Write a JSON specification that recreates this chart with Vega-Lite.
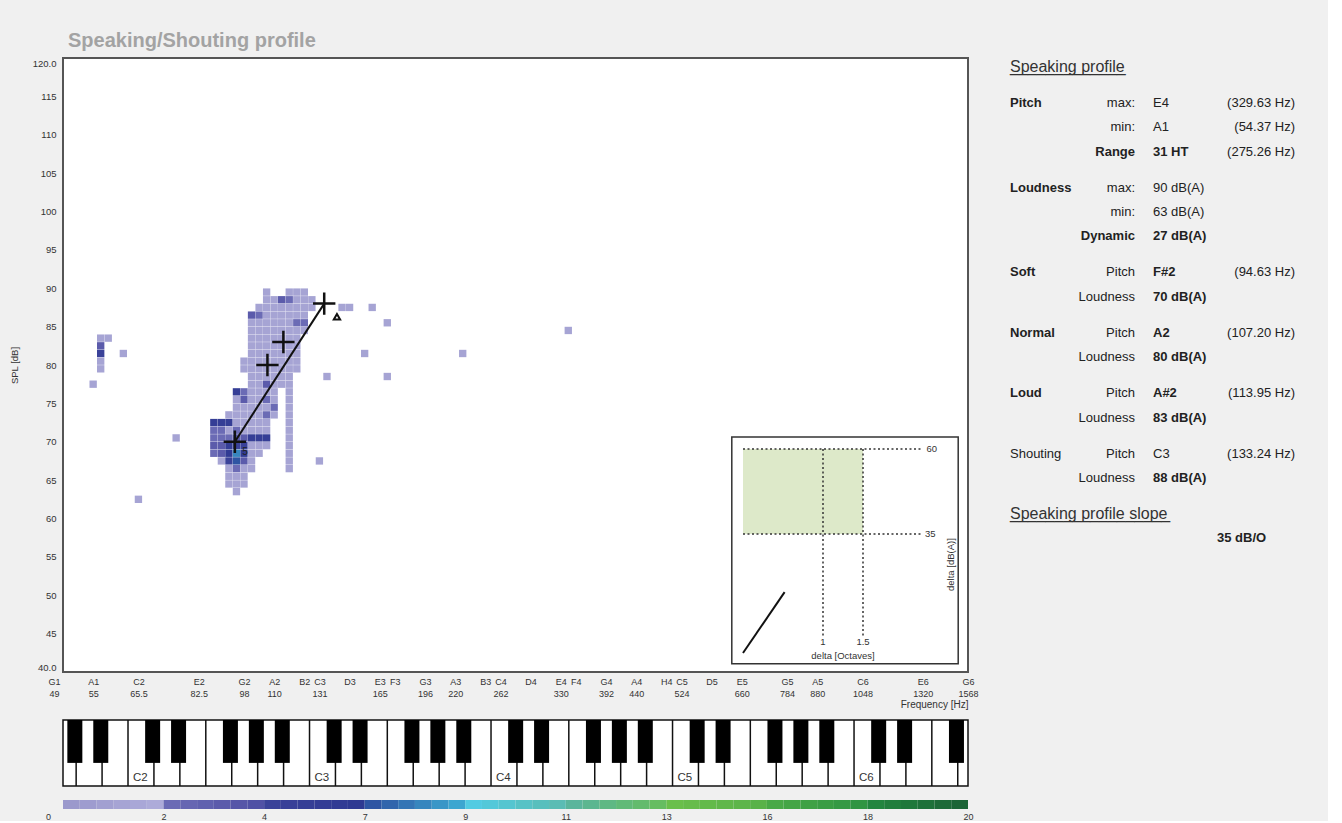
{
"$schema":"https://vega.github.io/schema/vega-lite/v6.json",
"background":"#f0f0f0",
"padding":{"left":8,"top":30,"right":0,"bottom":0},
"config":{"font":"Liberation Sans","view":{"stroke":null},"axis":{"grid":false,"domain":false,"ticks":false,"labelColor":"#333","titleColor":"#333"}},
"spacing":18,
"hconcat":[
{"spacing":1,"vconcat":[
{
"width":905,"height":614,
"title":{"text":"Speaking/Shouting profile","anchor":"start","frame":"group","fontSize":20,"fontWeight":"bold","color":"#a3a3a3","dx":5,"offset":7},
"view":{"fill":"white","stroke":"#555","strokeWidth":2},
"resolve":{"scale":{"x":"independent","y":"independent"}},
"layer":[
{
"encoding":{
"x":{"field":"f","type":"quantitative","scale":{"type":"log","base":2,"domain":[49,1568],"nice":false},
 "axis":{"title":"Frequency [Hz]","titleAnchor":"end","titleFontSize":10,"titleFontWeight":"normal","titlePadding":1,
 "values":[49,55,65.41,82.41,98,110,123.47,130.81,146.83,164.81,174.61,196,220,246.94,261.63,293.66,329.63,349.23,392,440,493.88,523.25,587.33,659.26,784,880,1046.5,1318.5,1568],
 "labelExpr":"({'49':['G1','49'],'55':['A1','55'],'65.41':['C2','65.5'],'82.41':['E2','82.5'],'98':['G2','98'],'110':['A2','110'],'123.47':['B2',''],'130.81':['C3','131'],'146.83':['D3',''],'164.81':['E3','165'],'174.61':['F3',''],'196':['G3','196'],'220':['A3','220'],'246.94':['B3',''],'261.63':['C4','262'],'293.66':['D4',''],'329.63':['E4','330'],'349.23':['F4',''],'392':['G4','392'],'440':['A4','440'],'493.88':['H4',''],'523.25':['C5','524'],'587.33':['D5',''],'659.26':['E5','660'],'784':['G5','784'],'880':['A5','880'],'1046.5':['C6','1048'],'1318.5':['E6','1320'],'1568':['G6','1568']})[''+datum.value]",
 "labelFontSize":9,"labelLineHeight":12,"labelPadding":5,"labelOverlap":false,"labelBound":false,"labelFlush":false,"labelBaseline":"top",
 "labelOffset":{"condition":{"test":"datum.value==49","value":-9},"value":0}}},
"y":{"field":"d","type":"quantitative","scale":{"domain":[40,120],"nice":false,"zero":false},
 "axis":{"title":"SPL [dB]","titleFontSize":9.5,"titleFontWeight":"normal","titlePadding":13,"values":[40,45,50,55,60,65,70,75,80,85,90,95,100,105,110,115,120],
 "labelExpr":"datum.value==40||datum.value==120?format(datum.value,'.1f'):datum.label","labelFontSize":9.5,"labelPadding":7,"labelFlush":true,"labelOverlap":false}}
},
"layer":[
{"data":{"values":[
{"f":55.0,"d":77.5,"n":1},
{"f":56.61,"d":83.5,"n":1},{"f":56.61,"d":82.5,"n":3},{"f":56.61,"d":81.5,"n":4},{"f":56.61,"d":80.5,"n":1},{"f":56.61,"d":79.5,"n":1},
{"f":58.27,"d":83.5,"n":1},{"f":61.74,"d":81.5,"n":1},{"f":65.41,"d":62.5,"n":1},{"f":75.57,"d":70.5,"n":1},
{"f":87.31,"d":72.5,"n":5},{"f":87.31,"d":71.5,"n":2},{"f":87.31,"d":70.5,"n":2},{"f":87.31,"d":69.5,"n":3},{"f":87.31,"d":68.5,"n":2},
{"f":89.87,"d":72.5,"n":5},{"f":89.87,"d":71.5,"n":2},{"f":89.87,"d":70.5,"n":2},{"f":89.87,"d":69.5,"n":3},{"f":89.87,"d":68.5,"n":3},{"f":89.87,"d":67.5,"n":1},
{"f":92.5,"d":73.5,"n":1},{"f":92.5,"d":72.5,"n":5},{"f":92.5,"d":71.5,"n":1},{"f":92.5,"d":70.5,"n":2},{"f":92.5,"d":69.5,"n":5},{"f":92.5,"d":68.5,"n":6},{"f":92.5,"d":67.5,"n":4},{"f":92.5,"d":66.5,"n":1},{"f":92.5,"d":65.5,"n":1},{"f":92.5,"d":64.5,"n":1},
{"f":95.21,"d":76.5,"n":5},{"f":95.21,"d":75.5,"n":1},{"f":95.21,"d":74.5,"n":1},{"f":95.21,"d":73.5,"n":1},{"f":95.21,"d":72.5,"n":1},{"f":95.21,"d":71.5,"n":2},{"f":95.21,"d":70.5,"n":3},{"f":95.21,"d":69.5,"n":4},{"f":95.21,"d":68.5,"n":8},{"f":95.21,"d":67.5,"n":7},{"f":95.21,"d":66.5,"n":2},{"f":95.21,"d":65.5,"n":1},{"f":95.21,"d":64.5,"n":1},{"f":95.21,"d":63.5,"n":1},
{"f":98.0,"d":80.5,"n":1},{"f":98.0,"d":79.5,"n":1},{"f":98.0,"d":76.5,"n":2},{"f":98.0,"d":75.5,"n":3},{"f":98.0,"d":74.5,"n":1},{"f":98.0,"d":73.5,"n":1},{"f":98.0,"d":72.5,"n":1},{"f":98.0,"d":71.5,"n":1},{"f":98.0,"d":70.5,"n":3},{"f":98.0,"d":69.5,"n":4},{"f":98.0,"d":68.5,"n":6},{"f":98.0,"d":67.5,"n":3},{"f":98.0,"d":66.5,"n":1},{"f":98.0,"d":65.5,"n":1},{"f":98.0,"d":64.5,"n":1},
{"f":100.87,"d":86.5,"n":3},{"f":100.87,"d":85.5,"n":1},{"f":100.87,"d":84.5,"n":1},{"f":100.87,"d":83.5,"n":1},{"f":100.87,"d":82.5,"n":1},{"f":100.87,"d":81.5,"n":1},{"f":100.87,"d":80.5,"n":1},{"f":100.87,"d":79.5,"n":1},{"f":100.87,"d":78.5,"n":1},{"f":100.87,"d":77.5,"n":1},{"f":100.87,"d":76.5,"n":1},{"f":100.87,"d":75.5,"n":1},{"f":100.87,"d":74.5,"n":1},{"f":100.87,"d":73.5,"n":1},{"f":100.87,"d":72.5,"n":1},{"f":100.87,"d":71.5,"n":1},{"f":100.87,"d":70.5,"n":5},{"f":100.87,"d":69.5,"n":1},{"f":100.87,"d":68.5,"n":1},{"f":100.87,"d":67.5,"n":1},{"f":100.87,"d":66.5,"n":1},
{"f":103.83,"d":87.5,"n":1},{"f":103.83,"d":86.5,"n":2},{"f":103.83,"d":85.5,"n":1},{"f":103.83,"d":84.5,"n":1},{"f":103.83,"d":83.5,"n":1},{"f":103.83,"d":82.5,"n":1},{"f":103.83,"d":81.5,"n":1},{"f":103.83,"d":80.5,"n":1},{"f":103.83,"d":79.5,"n":1},{"f":103.83,"d":78.5,"n":1},{"f":103.83,"d":77.5,"n":1},{"f":103.83,"d":76.5,"n":1},{"f":103.83,"d":75.5,"n":1},{"f":103.83,"d":74.5,"n":1},{"f":103.83,"d":73.5,"n":1},{"f":103.83,"d":72.5,"n":1},{"f":103.83,"d":71.5,"n":1},{"f":103.83,"d":70.5,"n":5},{"f":103.83,"d":69.5,"n":1},{"f":103.83,"d":68.5,"n":1},
{"f":106.87,"d":89.5,"n":1},{"f":106.87,"d":88.5,"n":1},{"f":106.87,"d":87.5,"n":1},{"f":106.87,"d":86.5,"n":1},{"f":106.87,"d":85.5,"n":1},{"f":106.87,"d":84.5,"n":1},{"f":106.87,"d":83.5,"n":1},{"f":106.87,"d":82.5,"n":1},{"f":106.87,"d":81.5,"n":1},{"f":106.87,"d":80.5,"n":1},{"f":106.87,"d":79.5,"n":1},{"f":106.87,"d":78.5,"n":1},{"f":106.87,"d":77.5,"n":3},{"f":106.87,"d":76.5,"n":1},{"f":106.87,"d":75.5,"n":2},{"f":106.87,"d":74.5,"n":1},{"f":106.87,"d":73.5,"n":2},{"f":106.87,"d":72.5,"n":1},{"f":106.87,"d":71.5,"n":1},{"f":106.87,"d":70.5,"n":5},{"f":106.87,"d":69.5,"n":1},
{"f":110.0,"d":88.5,"n":1},{"f":110.0,"d":87.5,"n":1},{"f":110.0,"d":86.5,"n":1},{"f":110.0,"d":85.5,"n":1},{"f":110.0,"d":84.5,"n":1},{"f":110.0,"d":83.5,"n":1},{"f":110.0,"d":82.5,"n":1},{"f":110.0,"d":81.5,"n":1},{"f":110.0,"d":80.5,"n":1},{"f":110.0,"d":79.5,"n":1},{"f":110.0,"d":78.5,"n":1},{"f":110.0,"d":77.5,"n":1},{"f":110.0,"d":76.5,"n":1},{"f":110.0,"d":75.5,"n":1},{"f":110.0,"d":74.5,"n":2},{"f":110.0,"d":73.5,"n":1},
{"f":113.22,"d":88.5,"n":3},{"f":113.22,"d":87.5,"n":1},{"f":113.22,"d":86.5,"n":1},{"f":113.22,"d":85.5,"n":1},{"f":113.22,"d":84.5,"n":1},{"f":113.22,"d":83.5,"n":1},{"f":113.22,"d":82.5,"n":1},{"f":113.22,"d":81.5,"n":1},{"f":113.22,"d":80.5,"n":1},{"f":113.22,"d":79.5,"n":1},{"f":113.22,"d":78.5,"n":1},{"f":113.22,"d":77.5,"n":1},
{"f":116.54,"d":89.5,"n":1},{"f":116.54,"d":88.5,"n":2},{"f":116.54,"d":87.5,"n":1},{"f":116.54,"d":86.5,"n":1},{"f":116.54,"d":85.5,"n":1},{"f":116.54,"d":84.5,"n":1},{"f":116.54,"d":83.5,"n":1},{"f":116.54,"d":82.5,"n":1},{"f":116.54,"d":81.5,"n":1},{"f":116.54,"d":80.5,"n":1},{"f":116.54,"d":79.5,"n":1},{"f":116.54,"d":78.5,"n":1},{"f":116.54,"d":77.5,"n":1},{"f":116.54,"d":76.5,"n":1},{"f":116.54,"d":75.5,"n":1},{"f":116.54,"d":74.5,"n":1},{"f":116.54,"d":73.5,"n":1},{"f":116.54,"d":72.5,"n":1},{"f":116.54,"d":71.5,"n":1},{"f":116.54,"d":70.5,"n":1},{"f":116.54,"d":69.5,"n":1},{"f":116.54,"d":68.5,"n":1},{"f":116.54,"d":67.5,"n":1},{"f":116.54,"d":66.5,"n":1},
{"f":119.96,"d":89.5,"n":1},{"f":119.96,"d":88.5,"n":1},{"f":119.96,"d":87.5,"n":1},{"f":119.96,"d":86.5,"n":1},{"f":119.96,"d":85.5,"n":2},{"f":119.96,"d":84.5,"n":1},{"f":119.96,"d":83.5,"n":1},{"f":119.96,"d":82.5,"n":1},{"f":119.96,"d":81.5,"n":1},{"f":119.96,"d":80.5,"n":1},{"f":119.96,"d":79.5,"n":1},
{"f":123.47,"d":89.5,"n":1},{"f":123.47,"d":88.5,"n":1},{"f":123.47,"d":87.5,"n":1},{"f":123.47,"d":86.5,"n":1},{"f":123.47,"d":85.5,"n":2},{"f":123.47,"d":84.5,"n":1},
{"f":127.09,"d":88.5,"n":1},{"f":127.09,"d":87.5,"n":1},
{"f":130.81,"d":67.5,"n":1},{"f":134.65,"d":78.5,"n":1},{"f":142.65,"d":87.5,"n":1},{"f":146.83,"d":87.5,"n":1},{"f":155.56,"d":81.5,"n":1},{"f":160.12,"d":87.5,"n":1},{"f":169.64,"d":85.5,"n":1},{"f":169.64,"d":78.5,"n":1},{"f":226.45,"d":81.5,"n":1},{"f":339.27,"d":84.5,"n":1}
]},
"mark":{"type":"square","size":54,"opacity":1,"strokeWidth":0},
"encoding":{
"color":{"field":"n","type":"quantitative","legend":null,"scale":{"domain":[0,1.999,2,3.999,4,6.999,7,8.999,9,10.999,11,12.999,13,15.999,16,17.999,18,20],"range":["#9b99cc","#b0aedc","#6b6bb5","#4b4ca2","#3a4299","#2c3791","#2e55a3","#3fb6d9","#52cbe2","#5bb9ab","#5ab59c","#68be55","#6abf4b","#56b049","#49a947","#2b9142","#22853f","#1a5d34"],"interpolate":"rgb"}}
}},
{"data":{"values":[{"f":94.63,"d":70},{"f":133.24,"d":88}]},
"mark":{"type":"line","color":"#111","strokeWidth":2}},
{"data":{"values":[{"f":94.63,"d":70,"m":"Soft"},{"f":107.2,"d":80,"m":"Normal"},{"f":113.95,"d":83,"m":"Loud"},{"f":133.24,"d":88,"m":"Shouting"}]},
"mark":{"type":"point","shape":"M-1,0H1M0,-1V1","size":500,"filled":false,"color":"#111","strokeWidth":2.5,"opacity":1}},
{"data":{"values":[{"f":139.9,"d":86.3}]},
"mark":{"type":"point","shape":"triangle-up","size":40,"filled":false,"color":"#111","strokeWidth":2,"opacity":1}},
{"data":{"values":[{"f":98.4,"d":68.7,"t":"5"}]},
"mark":{"type":"text","fontSize":10,"color":"#222"},
"encoding":{"text":{"field":"t"}}}
]},
{
"encoding":{
"x":{"field":"x0","type":"quantitative","scale":{"domain":[-8.5,2.8125],"nice":false,"zero":false},"axis":null},
"y":{"field":"y0","type":"quantitative","scale":{"domain":[-5.59,175],"nice":false,"zero":false},"axis":null}
},
"layer":[
{"data":{"values":[{"x0":-0.14,"x1":2.69,"y0":-3.2,"y1":63.5}]},
"mark":{"type":"rect","fill":"white","stroke":"#333","strokeWidth":1.5},
"encoding":{"x2":{"field":"x1"},"y2":{"field":"y1"}}},
{"data":{"values":[{"x0":0,"x1":1.5,"y0":35,"y1":60}]},
"mark":{"type":"rect","fill":"#dde9c9"},
"encoding":{"x2":{"field":"x1"},"y2":{"field":"y1"}}},
{"data":{"values":[{"x0":0,"x1":2.22,"y0":60,"y1":60},{"x0":0,"x1":2.22,"y0":35,"y1":35},{"x0":1,"x1":1,"y0":60,"y1":4.7},{"x0":1.5,"x1":1.5,"y0":60,"y1":4.7}]},
"mark":{"type":"rule","color":"#333","strokeWidth":1.5,"strokeDash":[2,2.5]},
"encoding":{"x2":{"field":"x1"},"y2":{"field":"y1"}}},
{"data":{"values":[{"x0":0,"x1":0.52,"y0":0,"y1":17.9}]},
"mark":{"type":"rule","color":"#111","strokeWidth":2},
"encoding":{"x2":{"field":"x1"},"y2":{"field":"y1"}}},
{"data":{"values":[{"x0":2.36,"y0":60,"t":"60"},{"x0":2.34,"y0":35,"t":"35"},{"x0":1,"y0":3.2,"t":"1"},{"x0":1.5,"y0":3.2,"t":"1.5"},{"x0":1.25,"y0":-0.9,"t":"delta [Octaves]"}]},
"mark":{"type":"text","fontSize":9.5,"color":"#333","baseline":"middle"},
"encoding":{"text":{"field":"t"}}},
{"data":{"values":[{"x0":2.6,"y0":26,"t":"delta [dB(A)]"}]},
"mark":{"type":"text","fontSize":9.5,"color":"#333","baseline":"middle","angle":270},
"encoding":{"text":{"field":"t"}}}
]}
]
},
{"spacing":12,"vconcat":[
{
"width":905,"height":66,
"view":{"fill":"white","stroke":"#111","strokeWidth":1.5},
"data":{"values":[
{"u":-2,"b":1},{"u":-1,"b":1},{"u":0,"c":"C2"},{"u":1,"b":1},{"u":2,"b":1},{"u":3},{"u":4,"b":1},{"u":5,"b":1},{"u":6,"b":1},
{"u":7,"c":"C3"},{"u":8,"b":1},{"u":9,"b":1},{"u":10},{"u":11,"b":1},{"u":12,"b":1},{"u":13,"b":1},
{"u":14,"c":"C4"},{"u":15,"b":1},{"u":16,"b":1},{"u":17},{"u":18,"b":1},{"u":19,"b":1},{"u":20,"b":1},
{"u":21,"c":"C5"},{"u":22,"b":1},{"u":23,"b":1},{"u":24},{"u":25,"b":1},{"u":26,"b":1},{"u":27,"b":1},
{"u":28,"c":"C6"},{"u":29,"b":1},{"u":30,"b":1},{"u":31},{"u":32,"b":1}
]},
"encoding":{"x":{"field":"u","type":"quantitative","scale":{"domain":[-2.507,32.395],"nice":false,"zero":false},"axis":null}},
"layer":[
{"mark":{"type":"rule","color":"#111","strokeWidth":1.5},
 "encoding":{"y":{"datum":0,"type":"quantitative","scale":{"domain":[0,1],"nice":false,"zero":false},"axis":null},"y2":{"datum":1}}},
{"transform":[{"filter":"datum.b"}],
 "mark":{"type":"rule","color":"#000","strokeWidth":15,"strokeCap":"butt","xOffset":-1.3},
 "encoding":{"y":{"datum":0.35,"type":"quantitative","scale":{"domain":[0,1],"nice":false,"zero":false},"axis":null},"y2":{"datum":1}}},
{"transform":[{"filter":"datum.c"}],
 "mark":{"type":"text","align":"left","baseline":"bottom","dx":5,"dy":-3,"fontSize":11.5,"color":"#333"},
 "encoding":{"y":{"datum":0,"type":"quantitative","scale":{"domain":[0,1],"nice":false,"zero":false},"axis":null},"text":{"field":"c"}}}
]
},
{
"width":905,"height":9,
"data":{"values":[
{"a":0,"b":0.333},{"a":0.333,"b":0.667},{"a":0.667,"b":1},{"a":1,"b":1.333},{"a":1.333,"b":1.667},{"a":1.667,"b":2},
{"a":2,"b":2.333},{"a":2.333,"b":2.667},{"a":2.667,"b":3},{"a":3,"b":3.333},{"a":3.333,"b":3.667},{"a":3.667,"b":4},
{"a":4,"b":4.5},{"a":4.5,"b":5},{"a":5,"b":5.5},{"a":5.5,"b":6},{"a":6,"b":6.5},{"a":6.5,"b":7},
{"a":7,"b":7.333},{"a":7.333,"b":7.667},{"a":7.667,"b":8},{"a":8,"b":8.333},{"a":8.333,"b":8.667},{"a":8.667,"b":9},
{"a":9,"b":9.333},{"a":9.333,"b":9.667},{"a":9.667,"b":10},{"a":10,"b":10.333},{"a":10.333,"b":10.667},{"a":10.667,"b":11},
{"a":11,"b":11.333},{"a":11.333,"b":11.667},{"a":11.667,"b":12},{"a":12,"b":12.333},{"a":12.333,"b":12.667},{"a":12.667,"b":13},
{"a":13,"b":13.5},{"a":13.5,"b":14},{"a":14,"b":14.5},{"a":14.5,"b":15},{"a":15,"b":15.5},{"a":15.5,"b":16},
{"a":16,"b":16.333},{"a":16.333,"b":16.667},{"a":16.667,"b":17},{"a":17,"b":17.333},{"a":17.333,"b":17.667},{"a":17.667,"b":18},
{"a":18,"b":18.333},{"a":18.333,"b":18.667},{"a":18.667,"b":19},{"a":19,"b":19.333},{"a":19.333,"b":19.667},{"a":19.667,"b":20}
]},
"mark":{"type":"rect"},
"encoding":{
"x":{"field":"a","type":"quantitative","scale":{"domain":[0,2,4,7,9,11,13,16,18,20],"range":[0,100.56,201.11,301.67,402.22,502.78,603.33,703.89,804.44,905],"nice":false,"zero":false},
 "axis":{"title":null,"values":[0,2,4,7,9,11,13,16,18,20],"labelFontSize":9,"labelPadding":3,"labelFlush":false,"labelOverlap":false,"labelOffset":{"condition":{"test":"datum.value==0","value":-15},"value":0}}},
"x2":{"field":"b"},
"color":{"field":"a","type":"quantitative","legend":null,"scale":{"domain":[0,1.999,2,3.999,4,6.999,7,8.999,9,10.999,11,12.999,13,15.999,16,17.999,18,20],"range":["#9b99cc","#b0aedc","#6b6bb5","#4b4ca2","#3a4299","#2c3791","#2e55a3","#3fb6d9","#52cbe2","#5bb9ab","#5ab59c","#68be55","#6abf4b","#56b049","#49a947","#2b9142","#22853f","#1a5d34"],"interpolate":"rgb"}}
}
}
]}
]},
{
"width":330,"height":532,
"data":{"values":[
{"line":0,"col":1,"text":"Speaking profile","h":1},
{"line":1.5,"col":1,"text":"Pitch","e":1},{"line":1.5,"col":2,"text":"max:"},{"line":1.5,"col":3,"text":"E4"},{"line":1.5,"col":5,"text":"(329.63 Hz)"},
{"line":2.5,"col":2,"text":"min:"},{"line":2.5,"col":3,"text":"A1"},{"line":2.5,"col":5,"text":"(54.37 Hz)"},
{"line":3.5,"col":2,"text":"Range","e":1},{"line":3.5,"col":3,"text":"31 HT","e":1},{"line":3.5,"col":5,"text":"(275.26 Hz)"},
{"line":5,"col":1,"text":"Loudness","e":1},{"line":5,"col":2,"text":"max:"},{"line":5,"col":3,"text":"90 dB(A)"},
{"line":6,"col":2,"text":"min:"},{"line":6,"col":3,"text":"63 dB(A)"},
{"line":7,"col":2,"text":"Dynamic","e":1},{"line":7,"col":3,"text":"27 dB(A)","e":1},
{"line":8.5,"col":1,"text":"Soft","e":1},{"line":8.5,"col":2,"text":"Pitch"},{"line":8.5,"col":3,"text":"F#2","e":1},{"line":8.5,"col":5,"text":"(94.63 Hz)"},
{"line":9.5,"col":2,"text":"Loudness"},{"line":9.5,"col":3,"text":"70 dB(A)","e":1},
{"line":11,"col":1,"text":"Normal","e":1},{"line":11,"col":2,"text":"Pitch"},{"line":11,"col":3,"text":"A2","e":1},{"line":11,"col":5,"text":"(107.20 Hz)"},
{"line":12,"col":2,"text":"Loudness"},{"line":12,"col":3,"text":"80 dB(A)","e":1},
{"line":13.5,"col":1,"text":"Loud","e":1},{"line":13.5,"col":2,"text":"Pitch"},{"line":13.5,"col":3,"text":"A#2","e":1},{"line":13.5,"col":5,"text":"(113.95 Hz)"},
{"line":14.5,"col":2,"text":"Loudness"},{"line":14.5,"col":3,"text":"83 dB(A)","e":1},
{"line":16,"col":1,"text":"Shouting"},{"line":16,"col":2,"text":"Pitch"},{"line":16,"col":3,"text":"C3"},{"line":16,"col":5,"text":"(133.24 Hz)"},
{"line":17,"col":2,"text":"Loudness"},{"line":17,"col":3,"text":"88 dB(A)","e":1},
{"line":18.5,"col":1,"text":"Speaking profile slope","h":1},
{"line":19.5,"col":4,"text":"35 dB/O","e":1}
]},
"encoding":{
"x":{"field":"col","type":"quantitative","scale":{"domain":[1,2,3,4,5],"range":[12,137,155,219,297],"nice":false,"zero":false},"axis":null},
"y":{"field":"line","type":"quantitative","scale":{"domain":[-0.37,21.63],"reverse":true,"nice":false,"zero":false},"axis":null}
},
"layer":[
{"transform":[{"filter":"!datum.h && !datum.e && datum.col!=2 && datum.col!=5"}],"mark":{"type":"text","align":"left","baseline":"middle","fontSize":13,"color":"#222"},"encoding":{"text":{"field":"text"}}},
{"transform":[{"filter":"datum.e && datum.col!=2 && datum.col!=5"}],"mark":{"type":"text","align":"left","baseline":"middle","fontSize":13,"fontWeight":"bold","color":"#222"},"encoding":{"text":{"field":"text"}}},
{"transform":[{"filter":"!datum.e && (datum.col==2 || datum.col==5)"}],"mark":{"type":"text","align":"right","baseline":"middle","fontSize":13,"color":"#222"},"encoding":{"text":{"field":"text"}}},
{"transform":[{"filter":"datum.e && (datum.col==2 || datum.col==5)"}],"mark":{"type":"text","align":"right","baseline":"middle","fontSize":13,"fontWeight":"bold","color":"#222"},"encoding":{"text":{"field":"text"}}},
{"transform":[{"filter":"datum.h"}],"mark":{"type":"text","align":"left","baseline":"middle","fontSize":16,"color":"#333"},"encoding":{"text":{"field":"text"}}},
{"transform":[{"filter":"datum.h && datum.line==0"}],"mark":{"type":"text","align":"left","baseline":"middle","fontSize":16,"color":"#333"},"encoding":{"text":{"value":"_____________"}}},
{"transform":[{"filter":"datum.h && datum.line>0"}],"mark":{"type":"text","align":"left","baseline":"middle","fontSize":16,"color":"#333"},"encoding":{"text":{"value":"__________________"}}}
]
}
]
}
